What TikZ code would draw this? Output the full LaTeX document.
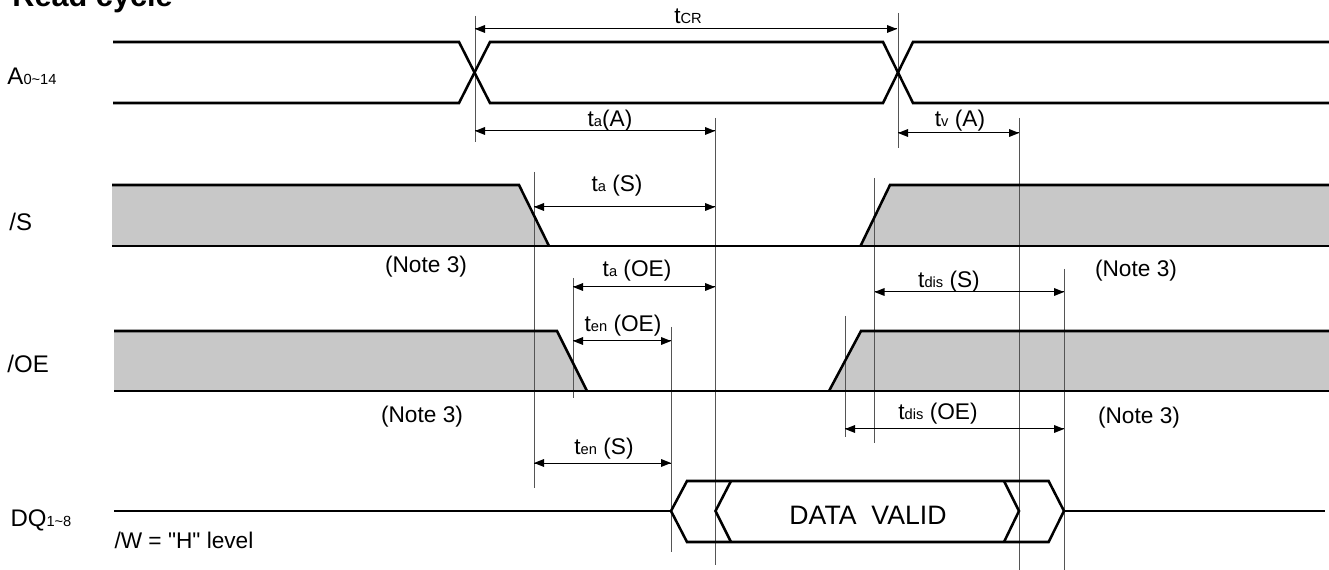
\documentclass[tikz,border=0pt]{standalone}
\usepackage{fontspec}
\setmainfont{Liberation Sans}
\newcommand{\tsub}[1]{{\fontsize{11}{11}\selectfont #1}}

\tikzset{every picture/.style={line width=0.75pt}}
\tikzset{every node/.style={inner sep=0pt,font=\fontsize{17}{19}\selectfont}}

\begin{document}
\begin{tikzpicture}[x=0.75pt,y=0.75pt,yscale=-1,xscale=1]
	\useasboundingbox (0,0) rectangle (1329,570);

	%Shape: Polygon [id:sfill1] 
	\fill [fill={rgb, 255:red, 200; green, 200; blue, 200 }  ] (112,185) -- (519,185) -- (549,246) -- (112,246) -- cycle ;
	%Shape: Polygon [id:sfill2] 
	\fill [fill={rgb, 255:red, 200; green, 200; blue, 200 }  ] (860.5,246) -- (890,185) -- (1329,185) -- (1329,246) -- cycle ;
	%Shape: Polygon [id:oefill1] 
	\fill [fill={rgb, 255:red, 200; green, 200; blue, 200 }  ] (114,331) -- (557,331) -- (587,391) -- (114,391) -- cycle ;
	%Shape: Polygon [id:oefill2] 
	\fill [fill={rgb, 255:red, 200; green, 200; blue, 200 }  ] (829,391) -- (861,331) -- (1329,331) -- (1329,391) -- cycle ;

	%Straight Lines [id:markers] 
	\draw [color={rgb, 255:red, 85; green, 85; blue, 85 }  ] (475,16) -- (475,142) ;
	\draw [color={rgb, 255:red, 85; green, 85; blue, 85 }  ] (898,13) -- (898,148) ;
	\draw [color={rgb, 255:red, 85; green, 85; blue, 85 }  ] (715,118) -- (715,565) ;
	\draw [color={rgb, 255:red, 85; green, 85; blue, 85 }  ] (1019,118) -- (1019,570) ;
	\draw [color={rgb, 255:red, 85; green, 85; blue, 85 }  ] (534,172) -- (534,488) ;
	\draw [color={rgb, 255:red, 85; green, 85; blue, 85 }  ] (573,278) -- (573,398) ;
	\draw [color={rgb, 255:red, 85; green, 85; blue, 85 }  ] (874.5,178) -- (874.5,443) ;
	\draw [color={rgb, 255:red, 85; green, 85; blue, 85 }  ] (1064,269) -- (1064,570) ;
	\draw [color={rgb, 255:red, 85; green, 85; blue, 85 }  ] (671,327) -- (671,552) ;
	\draw [color={rgb, 255:red, 85; green, 85; blue, 85 }  ] (845,316) -- (845,437) ;

	%Straight Lines [id:sigA] 
	\draw [line width=1.9]  (113,42) -- (459,42) -- (490,103) -- (883,103) -- (913,42) -- (1329,42) ;
	\draw [line width=1.9]  (113,103) -- (459,103) -- (490,42) -- (883,42) -- (913,103) -- (1329,103) ;
	%Straight Lines [id:sigS] 
	\draw [line width=1.9]  (112,185) -- (519,185) -- (549,246) ;
	\draw [line width=1.9]  (860.5,246) -- (890,185) -- (1329,185) ;
	\draw [line width=1.9]  (112,246) -- (1329,246) ;
	%Straight Lines [id:sigOE] 
	\draw [line width=1.9]  (114,331) -- (557,331) -- (587,391) ;
	\draw [line width=1.9]  (829,391) -- (861,331) -- (1329,331) ;
	\draw [line width=1.9]  (114,391) -- (1329,391) ;
	%Straight Lines [id:sigDQ] 
	\draw [line width=1.9]  (114,511) -- (671,511) ;
	\draw [line width=1.9]  (1064,511) -- (1325,511) ;
	\draw [line width=1.9]  (671,511) -- (687,481) -- (1048.6,481) -- (1064,511) -- (1048.6,542) -- (687,542) -- cycle ;
	\draw [line width=1.9]  (731,481) -- (715.5,511) -- (731,542) ;
	\draw [line width=1.9]  (1004,481) -- (1019,511) -- (1004,542) ;

	%Straight Lines [id:tcr] 
	\draw    (475,29) -- (897,29) ;
	\draw [shift={(475,29)}, rotate = 0] [fill={rgb, 255:red, 0; green, 0; blue, 0 }  ][line width=0.08]  [draw opacity=0] (10,-4) -- (0,0) -- (10,4) -- cycle    ;
	\draw [shift={(897,29)}, rotate = 180] [fill={rgb, 255:red, 0; green, 0; blue, 0 }  ][line width=0.08]  [draw opacity=0] (10,-4) -- (0,0) -- (10,4) -- cycle    ;
	%Straight Lines [id:taA] 
	\draw    (475,131) -- (715,131) ;
	\draw [shift={(475,131)}, rotate = 0] [fill={rgb, 255:red, 0; green, 0; blue, 0 }  ][line width=0.08]  [draw opacity=0] (10,-4) -- (0,0) -- (10,4) -- cycle    ;
	\draw [shift={(715,131)}, rotate = 180] [fill={rgb, 255:red, 0; green, 0; blue, 0 }  ][line width=0.08]  [draw opacity=0] (10,-4) -- (0,0) -- (10,4) -- cycle    ;
	%Straight Lines [id:tvA] 
	\draw    (898,133) -- (1019,133) ;
	\draw [shift={(898,133)}, rotate = 0] [fill={rgb, 255:red, 0; green, 0; blue, 0 }  ][line width=0.08]  [draw opacity=0] (10,-4) -- (0,0) -- (10,4) -- cycle    ;
	\draw [shift={(1019,133)}, rotate = 180] [fill={rgb, 255:red, 0; green, 0; blue, 0 }  ][line width=0.08]  [draw opacity=0] (10,-4) -- (0,0) -- (10,4) -- cycle    ;
	%Straight Lines [id:taS] 
	\draw    (534,207) -- (715,207) ;
	\draw [shift={(534,207)}, rotate = 0] [fill={rgb, 255:red, 0; green, 0; blue, 0 }  ][line width=0.08]  [draw opacity=0] (10,-4) -- (0,0) -- (10,4) -- cycle    ;
	\draw [shift={(715,207)}, rotate = 180] [fill={rgb, 255:red, 0; green, 0; blue, 0 }  ][line width=0.08]  [draw opacity=0] (10,-4) -- (0,0) -- (10,4) -- cycle    ;
	%Straight Lines [id:taOE] 
	\draw    (573,287) -- (715,287) ;
	\draw [shift={(573,287)}, rotate = 0] [fill={rgb, 255:red, 0; green, 0; blue, 0 }  ][line width=0.08]  [draw opacity=0] (10,-4) -- (0,0) -- (10,4) -- cycle    ;
	\draw [shift={(715,287)}, rotate = 180] [fill={rgb, 255:red, 0; green, 0; blue, 0 }  ][line width=0.08]  [draw opacity=0] (10,-4) -- (0,0) -- (10,4) -- cycle    ;
	%Straight Lines [id:tdisS] 
	\draw    (874.5,292) -- (1064,292) ;
	\draw [shift={(874.5,292)}, rotate = 0] [fill={rgb, 255:red, 0; green, 0; blue, 0 }  ][line width=0.08]  [draw opacity=0] (10,-4) -- (0,0) -- (10,4) -- cycle    ;
	\draw [shift={(1064,292)}, rotate = 180] [fill={rgb, 255:red, 0; green, 0; blue, 0 }  ][line width=0.08]  [draw opacity=0] (10,-4) -- (0,0) -- (10,4) -- cycle    ;
	%Straight Lines [id:tenOE] 
	\draw    (573,341) -- (671,341) ;
	\draw [shift={(573,341)}, rotate = 0] [fill={rgb, 255:red, 0; green, 0; blue, 0 }  ][line width=0.08]  [draw opacity=0] (10,-4) -- (0,0) -- (10,4) -- cycle    ;
	\draw [shift={(671,341)}, rotate = 180] [fill={rgb, 255:red, 0; green, 0; blue, 0 }  ][line width=0.08]  [draw opacity=0] (10,-4) -- (0,0) -- (10,4) -- cycle    ;
	%Straight Lines [id:tdisOE] 
	\draw    (845,429) -- (1064,429) ;
	\draw [shift={(845,429)}, rotate = 0] [fill={rgb, 255:red, 0; green, 0; blue, 0 }  ][line width=0.08]  [draw opacity=0] (10,-4) -- (0,0) -- (10,4) -- cycle    ;
	\draw [shift={(1064,429)}, rotate = 180] [fill={rgb, 255:red, 0; green, 0; blue, 0 }  ][line width=0.08]  [draw opacity=0] (10,-4) -- (0,0) -- (10,4) -- cycle    ;
	%Straight Lines [id:tenS] 
	\draw    (534,463) -- (671,463) ;
	\draw [shift={(534,463)}, rotate = 0] [fill={rgb, 255:red, 0; green, 0; blue, 0 }  ][line width=0.08]  [draw opacity=0] (10,-4) -- (0,0) -- (10,4) -- cycle    ;
	\draw [shift={(671,463)}, rotate = 180] [fill={rgb, 255:red, 0; green, 0; blue, 0 }  ][line width=0.08]  [draw opacity=0] (10,-4) -- (0,0) -- (10,4) -- cycle    ;

	% Text Node
	\draw (12,7) node [anchor=base west] (title) {\fontsize{23}{23}\selectfont\bfseries Read cycle};
	% Text Node
	\draw (7,85) node [anchor=base west] (lblA) {\fontsize{18}{20}\selectfont A\tsub{0\textasciitilde14}};
	% Text Node
	\draw (9,231) node [anchor=base west] (lblS) {\fontsize{18}{20}\selectfont /S};
	% Text Node
	\draw (7,373) node [anchor=base west] (lblOE) {\fontsize{18}{20}\selectfont /OE};
	% Text Node
	\draw (10,526) node [anchor=base west] (lblDQ) {\fontsize{18}{20}\selectfont DQ\tsub{1\textasciitilde8}};
	% Text Node
	\draw (114,548) node [anchor=base west] (lblW) {/W = \textquotedbl H\textquotedbl{} level};
	% Text Node
	\draw (688,24) node [anchor=base] (ltcr) {t\tsub{CR}};
	% Text Node
	\draw (610,127) node [anchor=base] (ltaA) {t\tsub{a}(A)};
	% Text Node
	\draw (960,127) node [anchor=base] (ltvA) {t\tsub{v} (A)};
	% Text Node
	\draw (617,192) node [anchor=base] (ltaS) {t\tsub{a} (S)};
	% Text Node
	\draw (637,277) node [anchor=base] (ltaOE) {t\tsub{a} (OE)};
	% Text Node
	\draw (623,332) node [anchor=base] (ltenOE) {t\tsub{en} (OE)};
	% Text Node
	\draw (604,455) node [anchor=base] (ltenS) {t\tsub{en} (S)};
	% Text Node
	\draw (949,288) node [anchor=base] (ltdisS) {t\tsub{dis} (S)};
	% Text Node
	\draw (938,420) node [anchor=base] (ltdisOE) {t\tsub{dis} (OE)};
	% Text Node
	\draw (426,273) node [anchor=base] (note1) {(Note 3)};
	% Text Node
	\draw (1136,277) node [anchor=base] (note2) {(Note 3)};
	% Text Node
	\draw (422,422) node [anchor=base] (note3) {(Note 3)};
	% Text Node
	\draw (1139,423) node [anchor=base] (note4) {(Note 3)};
	% Text Node
	\draw (868,524) node [anchor=base] (ldata) {\fontsize{20}{20}\selectfont DATA\ \ VALID};

\end{tikzpicture}
\end{document}
